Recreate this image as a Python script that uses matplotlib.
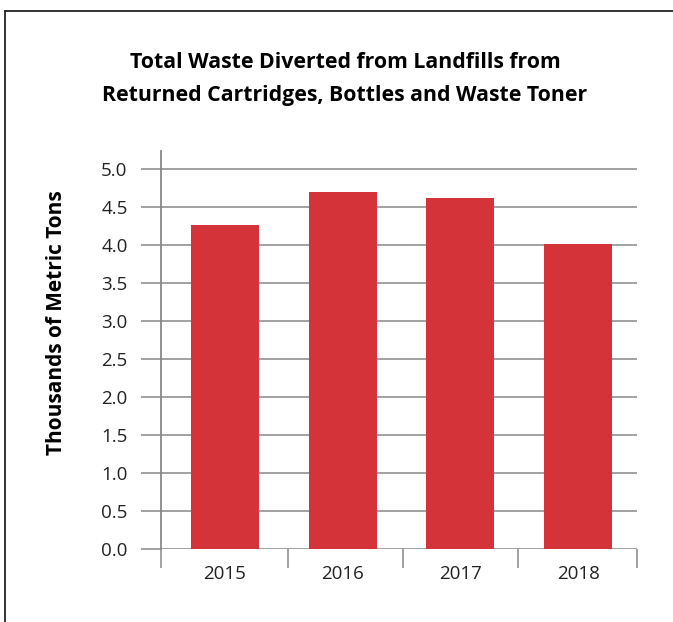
import matplotlib
matplotlib.use("Agg")
import matplotlib.pyplot as plt
from matplotlib.lines import Line2D
import numpy as np

years = ["2015", "2016", "2017", "2018"]
values = [4.27, 4.70, 4.62, 4.02]
yticks = [0.0, 0.5, 1.0, 1.5, 2.0, 2.5, 3.0, 3.5, 4.0, 4.5, 5.0]

W, H = 673, 622
fig = plt.figure(figsize=(W / 100, H / 100), dpi=100)
fig.patch.set_facecolor("white")

ax = fig.add_axes([161.3 / W, (H - 549.3) / H, (637 - 161.3) / W, (549.3 - 151) / H])
x = np.arange(len(years))
ax.bar(x, values, width=0.578, color="#D4333A", zorder=3)
ax.set_xlim(-0.54, len(years) - 0.5)
ax.set_ylim(0, 5.0 + 18 / 76)

grid_c = "#9a9a9a"
ax.set_yticks(yticks)
ax.set_yticklabels([f"{v:.1f}" for v in yticks], fontsize=13.5, color="#222222",
                   family="Open Sans")
ax.tick_params(axis="y", length=14.3, width=1.3, color=grid_c, pad=10)
for v in yticks:
    ax.axhline(v, color=grid_c, lw=1.3, zorder=1)

ax.set_xticks(x)
ax.set_xticklabels(years, fontsize=13.5, color="#222222", family="Open Sans")
ax.set_xticks([-0.54, 0.54, 1.515, 2.49, 3.5], minor=True)
ax.tick_params(axis="x", which="major", length=0, pad=11)
ax.tick_params(axis="x", which="minor", length=13.5, width=1.3, color=grid_c)

for s in ["top", "right", "bottom"]:
    ax.spines[s].set_visible(False)
ax.spines["left"].set_color("#888888")
ax.spines["left"].set_linewidth(1.3)
ax.spines["left"].set_zorder(4)

fig.text(57 / W, 1 - 323 / H, "Thousands of Metric Tons", rotation=90,
         ha="center", va="center", fontsize=15, fontweight="bold",
         family="Open Sans", color="black")

fig.text(345 / W, 1 - 62 / H, "Total Waste Diverted from Landfills from",
         ha="center", va="center", fontsize=15.3, fontweight="bold", family="Open Sans")
fig.text(345 / W, 1 - 95 / H, "Returned Cartridges, Bottles and Waste Toner",
         ha="center", va="center", fontsize=15.3, fontweight="bold", family="Open Sans")

# outer border (cut at right and bottom)
fig.add_artist(Line2D([4.5 / W, 4.5 / W], [0, 1 - 10.5 / H], transform=fig.transFigure,
                      color="#222222", lw=1.3))
fig.add_artist(Line2D([4.5 / W, 1], [1 - 10.5 / H, 1 - 10.5 / H], transform=fig.transFigure,
                      color="#222222", lw=1.3))

fig.savefig("out.png", dpi=100)
